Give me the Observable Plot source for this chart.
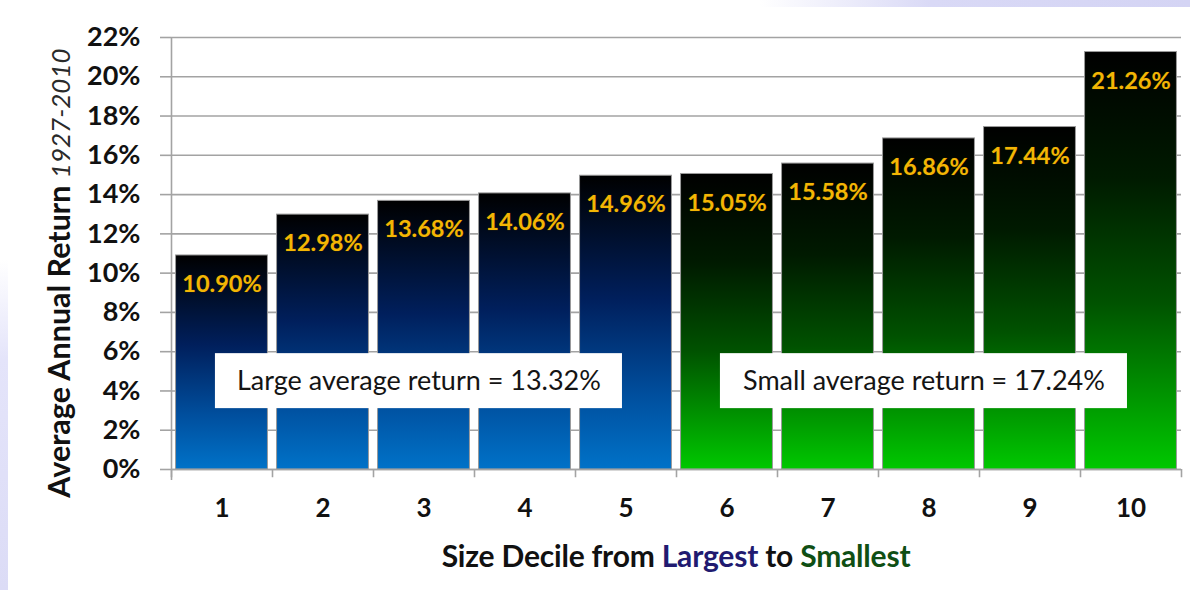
<!DOCTYPE html>
<html><head><meta charset="utf-8">
<script src="https://cdn.jsdelivr.net/npm/d3@7"></script>
<script src="https://cdn.jsdelivr.net/npm/@observablehq/plot@0.6"></script>
<style>
body{margin:0;background:#fff;font-family:Lato,"Open Sans",sans-serif;}
#wrap{position:relative;width:1190px;height:602px;overflow:hidden;background:#fff;}
#chart{position:absolute;left:0;top:0;}
.bgtop{position:absolute;left:760px;top:0;width:430px;height:7px;background:linear-gradient(to right,rgba(220,220,248,0),#d9d9f6 40%,#d4d4f4);}
.bgleft{position:absolute;left:0;top:260px;width:8px;height:330px;background:linear-gradient(to bottom,rgba(225,225,250,0),#e4e4fa 30%,#dcdcf6);}
#xtitle{position:absolute;left:171px;width:1010px;top:537px;text-align:center;font-weight:700;font-size:30px;color:#111;letter-spacing:-0.2px;}
</style></head><body>
<div id="wrap">
<div class="bgtop"></div><div class="bgleft"></div>
<div id="chart"></div>
<div id="xtitle">Size Decile from <span style="color:#211a70">Largest</span> to <span style="color:#0f4f14">Smallest</span></div>
</div>
<script>
const deciles = [1, 2, 3, 4, 5, 6, 7, 8, 9, 10];
const returns = [10.90, 12.98, 13.68, 14.06, 14.96, 15.05, 15.58, 16.86, 17.44, 21.26];
const groups = ["Large","Large","Large","Large","Large","Small","Small","Small","Small","Small"];
const yTicks = [0, 2, 4, 6, 8, 10, 12, 14, 16, 18, 20, 22];
const groupNames = ["Large", "Small"];
const groupAverages = [13.32, 17.24];

const data = deciles.map((d, i) => ({decile: d, value: returns[i], group: groups[i]}));
const boxes = groupNames.map((g, i) => {
  const ds = data.filter(r => r.group === g).map(r => r.decile);
  return {group: g, first: d3.min(ds), last: d3.max(ds),
          label: `${g} average return = ${groupAverages[i].toFixed(2)}%`};
});
const gray = "#a3a3a3";
const font = "Lato, 'Open Sans', sans-serif";

const plot = Plot.plot({
  width: 1190, height: 530,
  marginLeft: 171, marginRight: 9, marginTop: 37, marginBottom: 61,
  style: {fontFamily: font, background: "transparent", overflow: "visible"},
  x: {type: "linear", domain: [0.5, 10.5], axis: null},
  y: {domain: [0, 22], axis: null},
  marks: [
    Plot.ruleY(yTicks, {y: d => d, stroke: gray, strokeWidth: 1.6}),
    Plot.axisY({ticks: yTicks, tickFormat: d => d + "%", tickSize: 11, tickPadding: 20,
      stroke: gray, strokeWidth: 1.6, strokeOpacity: 1, fontSize: 27, fontWeight: 700, fill: "#111", label: null}),
    Plot.ruleX([0.5], {x: d => d, y1: -0.56, y2: 22, stroke: gray, strokeWidth: 1.6}),
    Plot.ruleX(d3.range(0.5, 11, 1), {x: d => d, y1: 0, y2: -0.42, stroke: gray, strokeWidth: 1.6}),
    Plot.rectY(data, {x1: d => d.decile - 0.455, x2: d => d.decile + 0.455, y: "value",
      fill: d => d.group === "Large" ? "url(#gBlue)" : "url(#gGreen)", stroke: "#9a9a9a", strokeWidth: 1}),
    Plot.ruleY([0], {stroke: gray, strokeWidth: 1.6}),
    Plot.text(data, {x: "decile", y: "value", text: d => d.value.toFixed(2) + "%", dy: 29,
      fill: "#f3b604", fontSize: 23.5, fontWeight: 700, stroke: "#3a2a00", strokeWidth: 0.6}),
    Plot.rect(boxes, {x1: d => d.first - 0.065, x2: d => d.last - 0.035, y1: 3.1, y2: 5.9, fill: "#fff"}),
    Plot.text(boxes, {x: d => (d.first + d.last) / 2 - 0.05, y: 4.5, text: "label",
      fill: "#141414", fontSize: 27, fontWeight: 400}),
    Plot.axisX({ticks: deciles, tickSize: 0, tickPadding: 29, fontSize: 26, fontWeight: 700, fill: "#111", label: null})
  ]
});

const svg = d3.select(plot);
const defs = svg.insert("defs", ":first-child");
const gb = defs.append("linearGradient").attr("id", "gBlue").attr("x1", 0).attr("y1", 0).attr("x2", 0).attr("y2", 1);
[[0, "#000000"], [0.42, "#001f5c"], [0.75, "#004f9e"], [1, "#0072c8"]].forEach(([o, c]) =>
  gb.append("stop").attr("offset", o).attr("stop-color", c));
const gg = defs.append("linearGradient").attr("id", "gGreen").attr("x1", 0).attr("y1", 0).attr("x2", 0).attr("y2", 1);
[[0, "#000000"], [0.3, "#001a00"], [0.6, "#005200"], [1, "#00c800"]].forEach(([o, c]) =>
  gg.append("stop").attr("offset", o).attr("stop-color", c));

const yt = svg.append("text").attr("transform", "translate(70,273) rotate(-90)")
  .attr("text-anchor", "middle").attr("fill", "#111")
  .style("font-family", font);
yt.append("tspan").attr("font-weight", 700).attr("font-size", 30.5).text("Average Annual Return ");
yt.append("tspan").attr("font-style", "italic").attr("font-weight", 400).attr("font-size", 26).attr("fill", "#2a2a2a").text("1927-2010");

document.getElementById("chart").appendChild(plot);
</script>
</body></html>
